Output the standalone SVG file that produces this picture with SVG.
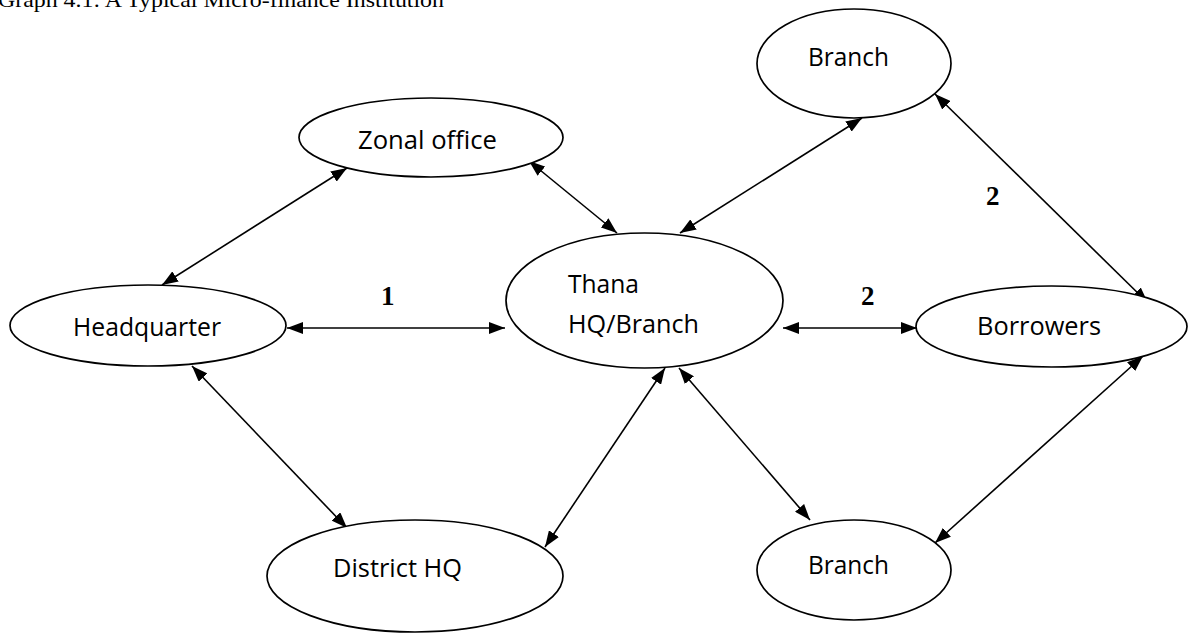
<svg xmlns="http://www.w3.org/2000/svg" width="1195" height="636" viewBox="0 0 1195 636">
<defs>
<style>
.node ellipse{fill:#fff;stroke:#000;stroke-width:1.7}
.node text{font-family:"Open Sans","Noto Sans",sans-serif;font-size:25px;fill:#000}
.conn line{stroke:#000;stroke-width:1.6}
.num{font-family:"Liberation Serif",serif;font-weight:bold;font-size:27px;fill:#000}
.title{font-family:"Liberation Serif",serif;font-size:21px;fill:#000}
</style>
<marker id="ah" markerUnits="userSpaceOnUse" viewBox="0 0 16 12" markerWidth="16" markerHeight="12" refX="16" refY="6" orient="auto-start-reverse">
<path d="M0,0 L16,6 L0,12 z" fill="#000"/>
</marker>
</defs>
<rect width="1195" height="636" fill="#fff"/>
<text class="title" x="-2" y="7" textLength="446" lengthAdjust="spacingAndGlyphs">Graph 4.1: A Typical Micro-finance Institution</text>
<g id="connectors" class="conn">
<line x1="287" y1="328" x2="505" y2="328" marker-start="url(#ah)" marker-end="url(#ah)"/>
<line x1="783" y1="328" x2="917" y2="328" marker-start="url(#ah)" marker-end="url(#ah)"/>
<line x1="162" y1="285" x2="347" y2="168" marker-start="url(#ah)" marker-end="url(#ah)"/>
<line x1="529" y1="161" x2="617" y2="233" marker-start="url(#ah)" marker-end="url(#ah)"/>
<line x1="862" y1="118" x2="680" y2="233" marker-start="url(#ah)" marker-end="url(#ah)"/>
<line x1="192" y1="366" x2="347" y2="528" marker-start="url(#ah)" marker-end="url(#ah)"/>
<line x1="665" y1="368" x2="545" y2="547" marker-start="url(#ah)" marker-end="url(#ah)"/>
<line x1="679" y1="368" x2="810" y2="520" marker-start="url(#ah)" marker-end="url(#ah)"/>
<line x1="935" y1="94" x2="1148" y2="303" marker-start="url(#ah)" marker-end="url(#ah)"/>
<line x1="935" y1="543" x2="1143" y2="356" marker-start="url(#ah)" marker-end="url(#ah)"/>
</g>
<text class="num" x="381" y="305">1</text>
<text class="num" x="861" y="305">2</text>
<text class="num" x="986" y="205">2</text>
<g id="zonal" class="node">
<ellipse cx="431" cy="137.5" rx="132" ry="39.5"/>
<text x="358" y="149" textLength="139" lengthAdjust="spacingAndGlyphs">Zonal office</text>
</g>
<g id="branch-top" class="node">
<ellipse cx="854" cy="63.5" rx="97" ry="54.5"/>
<text x="808" y="66" textLength="81" lengthAdjust="spacingAndGlyphs">Branch</text>
</g>
<g id="headquarter" class="node">
<ellipse cx="148" cy="325.5" rx="138" ry="40.5"/>
<text x="73" y="336" textLength="148" lengthAdjust="spacingAndGlyphs">Headquarter</text>
</g>
<g id="thana" class="node">
<ellipse cx="644.5" cy="300.5" rx="138.5" ry="67.5"/>
<text x="568" y="293" textLength="71" lengthAdjust="spacingAndGlyphs">Thana</text>
<text x="568" y="333" textLength="131" lengthAdjust="spacingAndGlyphs">HQ/Branch</text>
</g>
<g id="borrowers" class="node">
<ellipse cx="1051.5" cy="326.5" rx="135.5" ry="40.5"/>
<text x="977" y="335" textLength="124" lengthAdjust="spacingAndGlyphs">Borrowers</text>
</g>
<g id="branch-bottom" class="node">
<ellipse cx="854" cy="570" rx="97" ry="50"/>
<text x="808" y="574" textLength="81" lengthAdjust="spacingAndGlyphs">Branch</text>
</g>
<g id="district" class="node">
<ellipse cx="415" cy="576" rx="148" ry="56"/>
<text x="333" y="577" textLength="129" lengthAdjust="spacingAndGlyphs">District HQ</text>
</g>
</svg>
